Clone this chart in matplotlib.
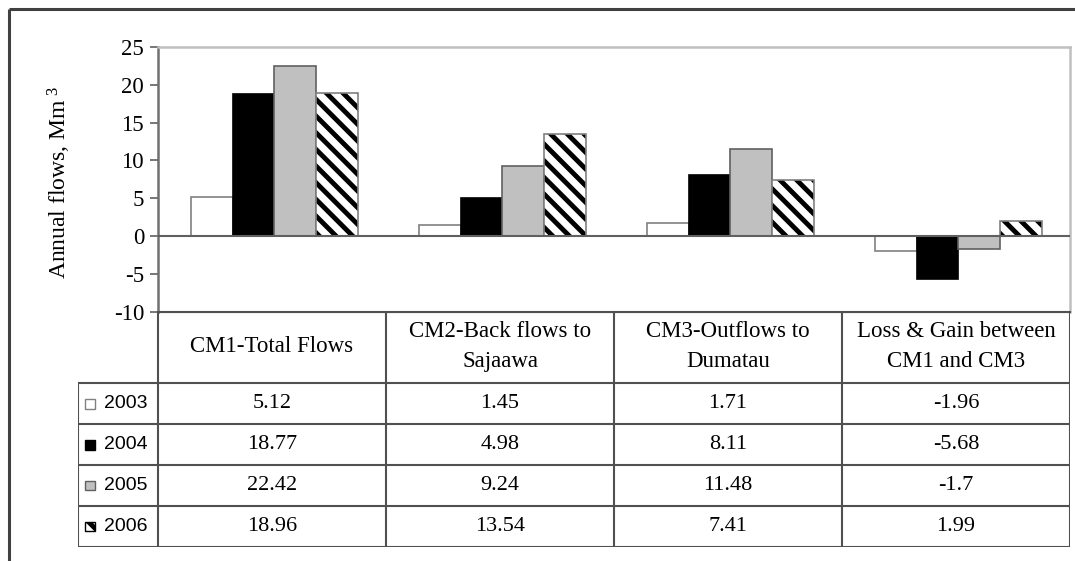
import matplotlib
matplotlib.use("Agg")
import matplotlib.pyplot as plt
from matplotlib.patches import Rectangle
from matplotlib.lines import Line2D

plt.rcParams['font.family'] = ['Liberation Serif', 'DejaVu Serif']
plt.rcParams['mathtext.fontset'] = 'custom'
plt.rcParams['mathtext.rm'] = 'Liberation Serif'
plt.rcParams['mathtext.it'] = 'Liberation Serif'
plt.rcParams['hatch.linewidth'] = 3.5

categories = ["CM1-Total Flows", "CM2-Back flows to\nSajaawa",
              "CM3-Outflows to\nDumatau", "Loss & Gain between\nCM1 and CM3"]
years = ["2003", "2004", "2005", "2006"]
v2003 = [5.12, 1.45, 1.71, -1.96]
v2004 = [18.77, 4.98, 8.11, -5.68]
v2005 = [22.42, 9.24, 11.48, -1.7]
v2006 = [18.96, 13.54, 7.41, 1.99]
series = [v2003, v2004, v2005, v2006]
yticks = [-10, -5, 0, 5, 10, 15, 20, 25]

# fill, edge, hatch for each year
styles = [("white", "#808080", None),
          ("black", "black", None),
          ("#c0c0c0", "#606060", None),
          ("white", "black", "\\\\")]

W, H = 1075, 561
fig = plt.figure(figsize=(W / 100, H / 100), dpi=100)

def box(l, t, r, b):
    return [l / W, 1 - b / H, (r - l) / W, (b - t) / H]

line_c = "#505050"

# bar chart
ax = fig.add_axes(box(158, 47, 1070, 311.5))
bw = 0.183
for i, vals in enumerate(series):
    fc, ec, hatch = styles[i]
    xs = [c + 0.51 + (i - 1.5) * bw for c in range(len(categories))]
    if hatch:
        ax.bar(xs, vals, bw, color=fc, edgecolor=ec, hatch=hatch, linewidth=0)
        ax.bar(xs, vals, bw, fill=False, edgecolor="#808080", linewidth=1.2)
    else:
        ax.bar(xs, vals, bw, color=fc, edgecolor=ec, linewidth=1.2)
ax.axhline(0, color="#606060", lw=1.5, zorder=3)
ax.set_xlim(0, 4)
ax.set_ylim(-10, 25)
ax.set_yticks(yticks)
ax.set_yticklabels([str(t) for t in yticks], fontsize=16.5)
ax.tick_params(axis='y', direction='out', length=6, width=1.2, color="#606060", pad=4)
ax.set_xticks([])
for s in ("top", "right"):
    ax.spines[s].set_color("#c0c0c0")
    ax.spines[s].set_linewidth(1.8)
ax.spines["left"].set_color("#707070")
ax.spines["left"].set_linewidth(1.8)
ax.spines["bottom"].set_color(line_c)
ax.spines["bottom"].set_linewidth(1.5)

fig.text(59 / W, 1 - 182 / H, "Annual flows, Mm$^{\\ 3}$", rotation=90,
         ha="center", va="center", fontsize=17)

# data table under the chart
left_px = 80 / 228
tx = fig.add_axes(box(78, 311.5, 1070, 547))
tx.set_xlim(-left_px, 4)
tx.set_ylim(5.75, 0)
tx.axis("off")

kw = dict(color=line_c, lw=1.5, solid_capstyle="butt")
tx.plot([0, 4], [0, 0], **kw)
for y in [1.75, 2.75, 3.75, 4.75, 5.75]:
    tx.plot([-left_px, 4], [y, y], **kw)
tx.plot([-left_px, -left_px], [1.75, 5.75], **kw)
for x in range(5):
    tx.plot([x, x], [0, 5.75], **kw)

for j, name in enumerate(categories):
    tx.text(j + 0.5, 0.85, name, ha="center", va="center", fontsize=16.5,
            linespacing=1.6)

for i, vals in enumerate(series):
    yc = 1.75 + i + 0.5
    for j, v in enumerate(vals):
        tx.text(j + 0.5, yc, f"{v:g}", ha="center", va="center", fontsize=16)
    fc, ec, hatch = styles[i]
    key = Rectangle((-0.32, yc - 0.12), 0.042, 0.24, facecolor=fc,
                    edgecolor="black" if hatch else ec, hatch=hatch, lw=1)
    tx.add_patch(key)
    tx.text(-0.235, yc, years[i], ha="left", va="center", fontsize=14,
            family="Liberation Sans")

# outer frame
frame = dict(color="#404040", lw=2.2, solid_capstyle="butt")
fig.add_artist(Line2D([9 / W, 9 / W], [0, 1 - 9 / H], transform=fig.transFigure, **frame))
fig.add_artist(Line2D([9 / W, 1], [1 - 9 / H, 1 - 9 / H], transform=fig.transFigure, **frame))

fig.savefig("out.png", dpi=100)
